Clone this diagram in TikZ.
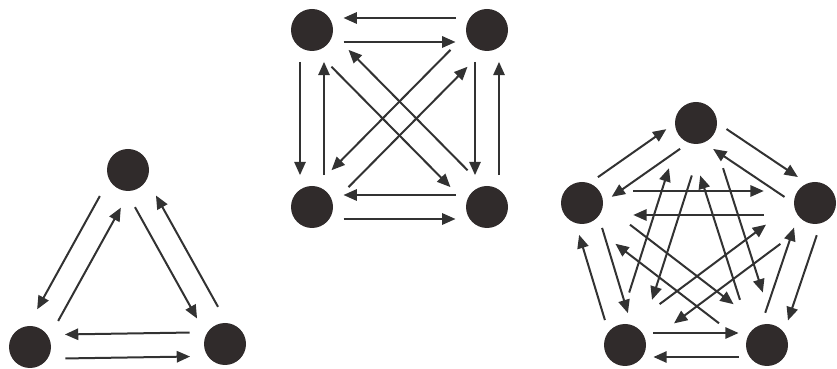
\documentclass[tikz,border=0pt]{standalone}
\usetikzlibrary{calc,arrows.meta}

\definecolor{dotgray}{RGB}{48,43,43}
\definecolor{lanegray}{RGB}{50,50,50}

\tikzset{
  dot/.style={circle,fill=dotgray,inner sep=0pt,minimum size=12.6mm},
  arr/.style={draw=lanegray,line width=0.6mm,-{Triangle[length=4mm,width=3.4mm]}}
}

% two opposite arrows between nodes #2 and #3
% #1 = gap fraction, #4 = side (1 right hand, -1 left hand)
\newcommand{\twoway}[4][0.18]{%
  \pgfmathsetmacro\angR{-90*#4}%
  \pgfmathsetmacro\angL{90*#4}%
  \coordinate (p) at ($(#2)!3.6mm!\angR:(#3)$);
  \coordinate (q) at ($(#3)!3.6mm!\angL:(#2)$);
  \draw[arr] ($(p)!#1!(q)$) -- ($(q)!#1!(p)$);
  \coordinate (p) at ($(#2)!3.6mm!\angL:(#3)$);
  \coordinate (q) at ($(#3)!3.6mm!\angR:(#2)$);
  \draw[arr] ($(q)!#1!(p)$) -- ($(p)!#1!(q)$);
}

\begin{document}
\begin{tikzpicture}[x=0.3mm,y=0.3mm]
  \useasboundingbox (0,0) rectangle (837,369);

  % three nodes
  \node[dot] (t1) at (128,199) {};
  \node[dot] (t2) at (30,22) {};
  \node[dot] (t3) at (225,25) {};
  \twoway{t1}{t2}{1}
  \twoway{t2}{t3}{1}
  \twoway{t3}{t1}{1}

  % four nodes
  \node[dot] (s1) at (312,339) {};
  \node[dot] (s2) at (487,339) {};
  \node[dot] (s3) at (312,162) {};
  \node[dot] (s4) at (487,162) {};
  \twoway{s1}{s2}{1}
  \twoway{s1}{s3}{1}
  \twoway{s2}{s4}{1}
  \twoway{s3}{s4}{1}
  \twoway[0.16]{s1}{s4}{1}
  \twoway[0.16]{s2}{s3}{1}

  % five nodes
  \node[dot] (f1) at (696,246) {};
  \node[dot] (f2) at (582,166) {};
  \node[dot] (f3) at (815,166) {};
  \node[dot] (f4) at (625,24) {};
  \node[dot] (f5) at (767,24) {};
  \twoway[0.2]{f1}{f2}{-1}
  \twoway[0.2]{f1}{f3}{-1}
  \twoway[0.2]{f2}{f4}{-1}
  \twoway[0.2]{f3}{f5}{-1}
  \twoway[0.2]{f4}{f5}{-1}
  \twoway[0.22]{f1}{f4}{-1}
  \twoway[0.22]{f1}{f5}{-1}
  \twoway[0.22]{f2}{f3}{-1}
  \twoway[0.22]{f2}{f5}{-1}
  \twoway[0.22]{f3}{f4}{-1}
\end{tikzpicture}
\end{document}
